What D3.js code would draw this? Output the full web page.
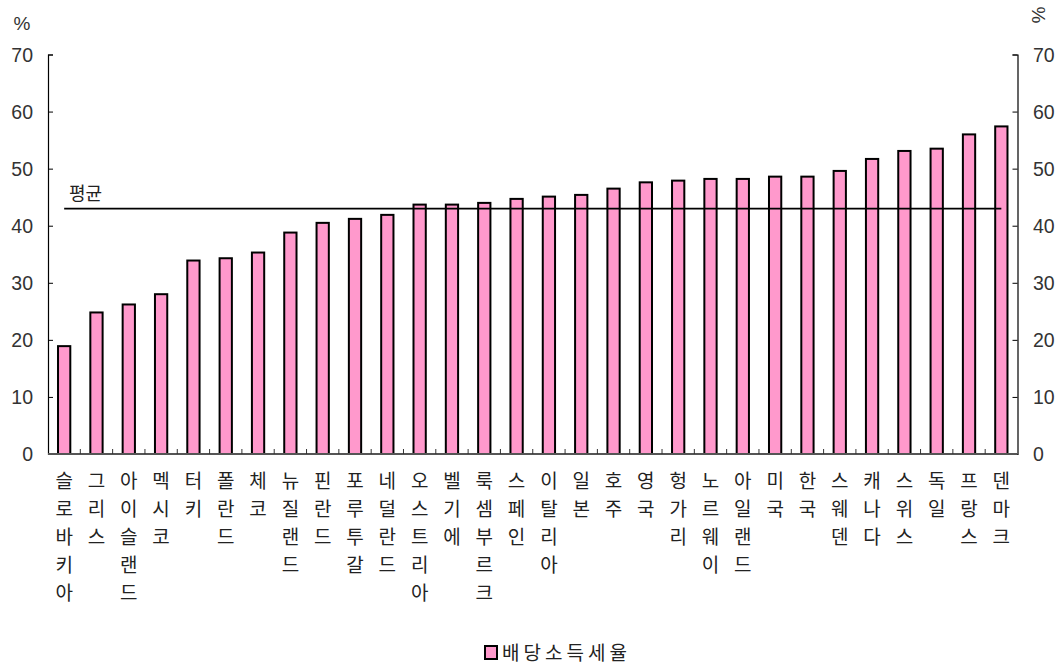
<!DOCTYPE html>
<html>
<head>
<meta charset="utf-8">
<script src="https://cdn.jsdelivr.net/npm/d3@7"></script>
<style>
  body { margin: 0; background: #fff; }
  svg { display: block; }
  text { font-family: "Noto Sans CJK KR", "Liberation Sans", sans-serif; }
</style>
</head>
<body>
<svg id="chart" width="1063" height="669"></svg>
<script>
const categories = ["슬로바키아","그리스","아이슬랜드","멕시코","터키","폴란드","체코","뉴질랜드","핀란드","포루투갈","네덜란드","오스트리아","벨기에","룩셈부르크","스페인","이탈리아","일본","호주","영국","헝가리","노르웨이","아일랜드","미국","한국","스웨덴","캐나다","스위스","독일","프랑스","덴마크"];
const values = [18.9,24.8,26.2,28.0,33.9,34.3,35.3,38.8,40.5,41.2,41.9,43.7,43.7,44.0,44.7,45.1,45.4,46.5,47.6,47.9,48.2,48.2,48.6,48.6,49.6,51.7,53.1,53.5,56.0,57.4];
const average = 43.0;
const yTicks = [0,10,20,30,40,50,60,70];
const seriesName = "배당소득세율";
const averageLabel = "평균";

const svg = d3.select("#chart");
const pLeft = 48, pRight = 1017.5, pTop = 54.5, pBottom = 454;

const x = d3.scaleBand().domain(categories).range([pLeft, pRight]).paddingInner(0.62).paddingOuter(0.31);
const y = d3.scaleLinear().domain([0, 70]).range([pBottom, pTop]);

// bars
svg.append("g").selectAll("rect").data(values).join("rect")
  .attr("x", (d, i) => x(categories[i]))
  .attr("y", d => y(d))
  .attr("width", x.bandwidth())
  .attr("height", d => y(0) - y(d))
  .attr("fill", "#FF99CC")
  .attr("stroke", "#000")
  .attr("stroke-width", 2);

// average line
const c0 = x(categories[0]) + x.bandwidth() / 2;
const cN = x(categories[categories.length - 1]) + x.bandwidth() / 2;
svg.append("line")
  .attr("x1", c0).attr("x2", cN)
  .attr("y1", y(average)).attr("y2", y(average))
  .attr("stroke", "#000").attr("stroke-width", 1.6);
svg.append("text")
  .attr("x", 69).attr("y", y(average) - 9)
  .attr("font-size", 18).attr("fill", "#222")
  .text(averageLabel);

// left axis
const yl = svg.append("g").attr("transform", `translate(${pLeft},0)`)
  .call(d3.axisRight(y).tickValues(yTicks).tickSize(5).tickFormat(""));
yl.select(".domain").attr("stroke", "#000").attr("stroke-width", 1.2);
yl.selectAll(".tick line").attr("stroke", "#000");
svg.append("g").selectAll("text").data(yTicks).join("text")
  .attr("x", 33).attr("y", d => y(d)).attr("dy", "0.36em")
  .attr("text-anchor", "end").attr("font-size", 19.5).attr("fill", "#333")
  .style("font-family", "'Liberation Sans', sans-serif")
  .text(d => d);

// right axis
const yr = svg.append("g").attr("transform", `translate(${pRight},0)`)
  .call(d3.axisLeft(y).tickValues(yTicks).tickSize(5).tickFormat(""));
yr.select(".domain").attr("stroke", "#000").attr("stroke-width", 1.2);
yr.selectAll(".tick line").attr("stroke", "#000");
svg.append("g").selectAll("text").data(yTicks).join("text")
  .attr("x", 1033).attr("y", d => y(d)).attr("dy", "0.36em")
  .attr("text-anchor", "start").attr("font-size", 19.5).attr("fill", "#333")
  .style("font-family", "'Liberation Sans', sans-serif")
  .text(d => d);

// x axis baseline with inward ticks at band boundaries
const step = x.step();
const boundaries = d3.range(categories.length + 1).map(i => pLeft + i * step);
svg.append("line").attr("x1", pLeft).attr("x2", pRight).attr("y1", pBottom).attr("y2", pBottom)
  .attr("stroke", "#555").attr("stroke-width", 2);
svg.append("g").selectAll("line").data(boundaries.slice(1, -1)).join("line")
  .attr("x1", d => d).attr("x2", d => d)
  .attr("y1", pBottom).attr("y2", pBottom - 5)
  .attr("stroke", "#333").attr("stroke-width", 1);

// category labels vertical
const lab = svg.append("g");
categories.forEach((c, i) => {
  const cx = x(c) + x.bandwidth() / 2;
  Array.from(c).forEach((ch, j) => {
    lab.append("text")
      .attr("x", cx).attr("y", 481 + j * 28).attr("dy", "0.35em")
      .attr("text-anchor", "middle").attr("font-size", 19).attr("fill", "#222")
      .text(ch);
  });
});

// percent labels
svg.append("text").attr("x", 22).attr("y", 23).attr("dy", "0.35em")
  .attr("text-anchor", "middle").attr("font-size", 19).attr("fill", "#333")
  .style("font-family", "'Liberation Sans', sans-serif").text("%");
svg.append("text").attr("transform", "translate(1039,15) rotate(90)")
  .attr("dy", "0.35em").attr("text-anchor", "middle").attr("font-size", 19).attr("fill", "#333")
  .style("font-family", "'Liberation Sans', sans-serif").text("%");

// legend
svg.append("rect").attr("x", 485).attr("y", 646).attr("width", 12).attr("height", 13)
  .attr("fill", "#FF99CC").attr("stroke", "#000").attr("stroke-width", 2);
svg.append("text").attr("x", 502).attr("y", 653).attr("dy", "0.36em")
  .attr("font-size", 19).attr("fill", "#222").attr("letter-spacing", 4)
  .text(seriesName);
</script>
</body>
</html>
